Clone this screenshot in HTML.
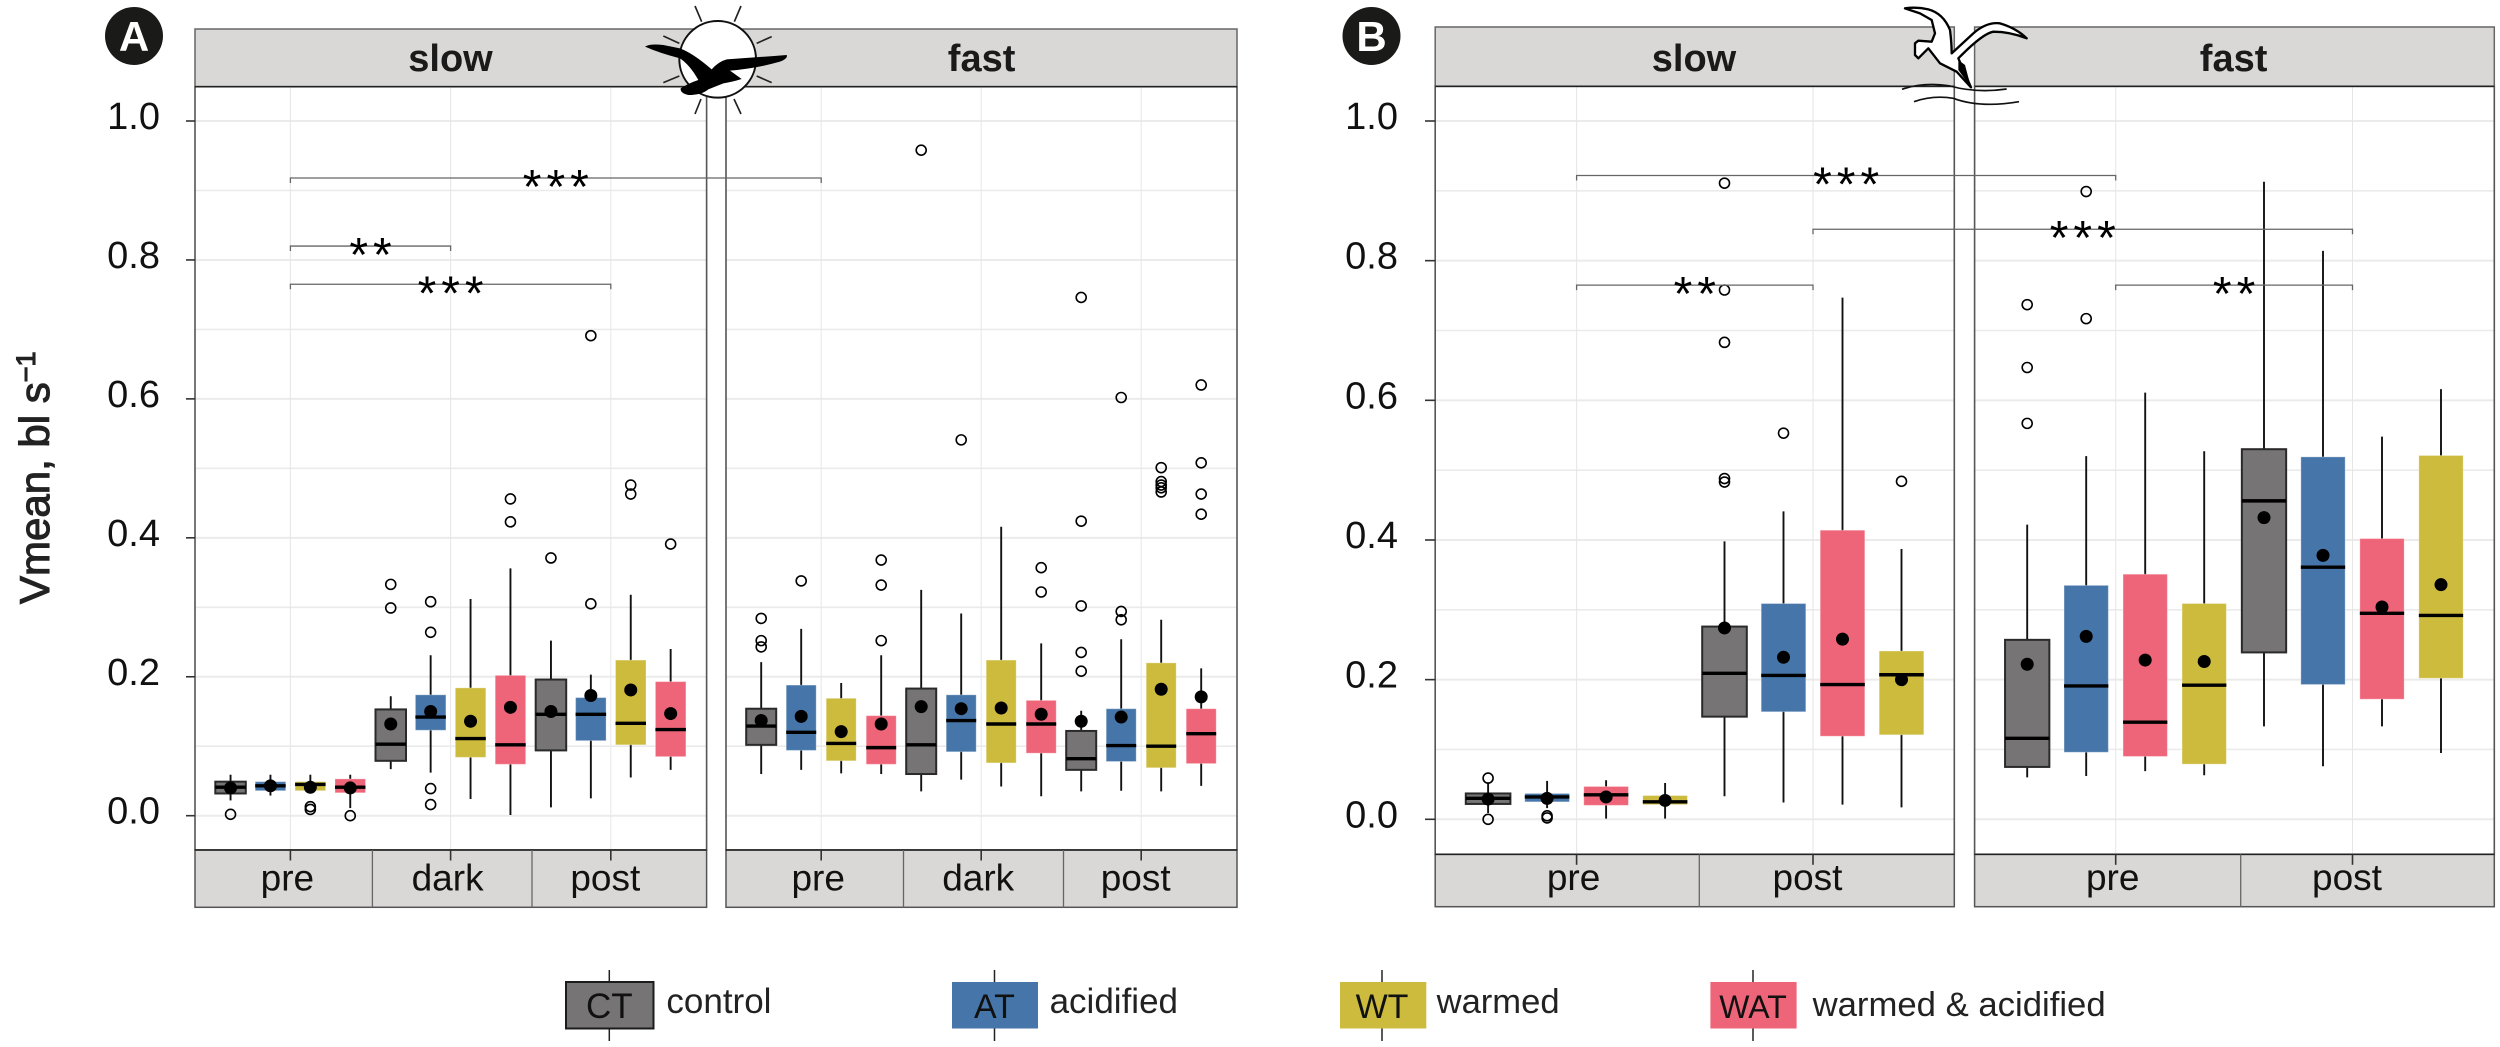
<!DOCTYPE html>
<html lang="en">
<head>
<meta charset="utf-8">
<title>Vmean by treatment and phase</title>
<style>
html,body{margin:0;padding:0;background:#fff;}
svg{display:block;font-family:"Liberation Sans",sans-serif;}
</style>
</head>
<body>
<svg id="chart" xmlns="http://www.w3.org/2000/svg" width="2500" height="1047" viewBox="0 0 2500 1047">
  <rect x="0" y="0" width="2500" height="1047" fill="#fff"/>
  <g id="plots"></g>

  <text transform="translate(49,604) rotate(-90)" font-size="42" fill="#222" stroke="#222" stroke-width="1.1">Vmean, bl s<tspan font-size="27" dy="-14">−1</tspan></text>

  <g>
    <circle cx="134" cy="36" r="29" fill="#1a1a18"/>
    <text x="134" y="51" font-size="42" font-weight="bold" fill="#fff" text-anchor="middle">A</text>
  </g>
  <g>
    <circle cx="1371.5" cy="36" r="29" fill="#1a1a18"/>
    <text x="1371.5" y="51" font-size="42" font-weight="bold" fill="#fff" text-anchor="middle">B</text>
  </g>

  <g transform="translate(630,0) scale(0.33333)">
    <circle cx="263" cy="178" r="115" fill="#fff" stroke="#111" stroke-width="6"/>
    <g stroke="#222" stroke-width="5" fill="none">
      <path d="M195,18L215,65M333,18L313,65M425,110L380,130M425,248L380,228M333,342L312,297M195,342L213,297M100,108L148,130M100,248L148,228"/>
    </g>
    <path fill="#000" d="M45,140Q60,130 100,135L150,145Q190,160 245,208Q265,185 290,178Q380,172 470,165Q475,175 450,185Q380,205 300,212L335,237Q310,245 280,250Q250,262 235,268Q215,285 175,285Q150,280 152,265Q175,250 205,240Q180,195 150,175Q90,160 45,140Z"/>
  </g>

  <g transform="translate(1890,0) scale(0.33333)">
    <path fill="#fff" stroke="#000" stroke-width="7" stroke-linejoin="round" d="M45,25Q80,20 115,28Q160,40 180,90Q185,130 185,160L250,100Q290,65 330,70Q380,85 410,115Q360,95 310,95Q280,100 215,165L205,175L243,262L200,215L150,190L115,145L85,175L75,165L75,130L85,122L125,125L135,100L125,60L90,40Z"/>
    <path fill="#000" d="M205,180L225,195L243,262L205,210Z"/>
    <path fill="none" stroke="#111" stroke-width="5" d="M36,268Q100,245 180,258Q260,280 350,267M72,305Q130,285 190,295Q270,325 387,305"/>
  </g>

  <g>
    <g>
      <line x1="609.3" x2="609.3" y1="970" y2="1041" stroke="#222" stroke-width="1.5"/>
      <rect x="566" y="982" width="87.5" height="46.5" fill="#767474" stroke="#1c1c1c" stroke-width="2"/>
      <text x="609.3" y="1018" font-size="35" text-anchor="middle" fill="#111">CT</text>
      <text x="666.4" y="1013" font-size="35" fill="#222">control</text>
    </g>
    <g>
      <line x1="994.5" x2="994.5" y1="970" y2="1041" stroke="#222" stroke-width="1.5"/>
      <rect x="952" y="982" width="86" height="46.5" fill="#4676a9"/>
      <text x="994.5" y="1018" font-size="34" text-anchor="middle" fill="#111">AT</text>
      <text x="1049.6" y="1013" font-size="35" fill="#222">acidified</text>
    </g>
    <g>
      <line x1="1382" x2="1382" y1="970" y2="1041" stroke="#222" stroke-width="1.5"/>
      <rect x="1340" y="982" width="86.3" height="46.5" fill="#cdbb3e"/>
      <text x="1382" y="1018" font-size="34" text-anchor="middle" fill="#111">WT</text>
      <text x="1436.6" y="1013" font-size="34.6" fill="#222">warmed</text>
    </g>
    <g>
      <line x1="1753" x2="1753" y1="970" y2="1041" stroke="#222" stroke-width="1.5"/>
      <rect x="1710.4" y="982" width="86.2" height="46.5" fill="#ee6478"/>
      <text x="1753" y="1018" font-size="32" text-anchor="middle" fill="#111">WAT</text>
      <text x="1812.6" y="1016" font-size="34.7" fill="#222">warmed &amp; acidified</text>
    </g>
  </g>
</svg>

<script>
// ---------- categories and tick labels ----------
const yTicks = [0, 0.2, 0.4, 0.6, 0.8, 1.0];
const yGrid = [0, 0.1, 0.2, 0.3, 0.4, 0.5, 0.6, 0.7, 0.8, 0.9, 1.0];
const phasesA = ['pre', 'dark', 'post'];
const phasesB = ['pre', 'post'];
const seriesA = ['CT', 'AT', 'WT', 'WAT'];
const seriesB = ['CT', 'AT', 'WAT', 'WT'];
const seriesColors = { CT: '#767474', AT: '#4676a9', WT: '#cdbb3e', WAT: '#ee6478' };

// ---------- panel A, slow ----------
const aSlowLow = [.022,.029,.032,.011, .067,.062,.024,.001, .012,.025,.055,.066];
const aSlowQ1 = [.032,.036,.036,.033, .079,.123,.084,.074, .094,.108,.102,.085];
const aSlowMedian = [.041,.043,.045,.041, .103,.142,.111,.102, .146,.146,.133,.124];
const aSlowQ3 = [.049,.049,.049,.053, .153,.174,.184,.202, .196,.170,.224,.193];
const aSlowHigh = [.059,.059,.059,.059, .172,.231,.312,.356, .252,.203,.318,.240];
const aSlowMean = [.040,.043,.041,.040, .132,.150,.136,.156, .150,.173,.181,.147];
const aSlowOutliers = [[.002],[],[.013,.009],[0], [.333,.299],[.308,.264,.039,.016],[],[.456,.423], [.371],[.691,.305],[.476,.463],[.391]];

// ---------- panel A, fast ----------
const aFastLow = [.060,.066,.061,.060, .035,.052,.042,.028, .035,.036,.035,.043];
const aFastQ1 = [.102,.094,.079,.074, .060,.092,.076,.090, .066,.078,.069,.075];
const aFastMedian = [.129,.120,.104,.098, .102,.137,.132,.132, .082,.101,.100,.118];
const aFastQ3 = [.154,.188,.169,.144, .183,.174,.224,.166, .122,.154,.220,.154];
const aFastHigh = [.221,.269,.191,.231, .325,.291,.416,.248, .151,.254,.282,.212];
const aFastMean = [.137,.143,.121,.132, .157,.154,.155,.146, .136,.142,.182,.171];
const aFastOutliers = [[.284,.252,.243],[.338],[],[.368,.332,.252], [.958],[.541],[],[.357,.322], [.746,.424,.302,.235,.208],[.602,.294,.282],[.501,.481,.476,.472,.466],[.620,.508,.463,.434]];

// ---------- panel B, slow ----------
const bSlowLow = [.009,.016,.001,.001, .033,.024,.021,.017];
const bSlowQ1 = [.022,.025,.020,.021, .147,.154,.119,.121];
const bSlowMedian = [.030,.032,.035,.025, .209,.206,.193,.207];
const bSlowQ3 = [.037,.037,.047,.034, .276,.309,.414,.241];
const bSlowHigh = [.052,.055,.056,.052, .398,.441,.747,.387];
const bSlowMean = [.029,.030,.032,.027, .274,.232,.258,.200];
const bSlowOutliers = [[.059,.000],[.005,.002],[],[], [.911,.758,.683,.488,.483],[.553],[],[.484]];

// ---------- panel B, fast ----------
const bFastLow = [.060,.062,.069,.063, .133,.076,.133,.095];
const bFastQ1 = [.075,.096,.090,.079, .239,.193,.172,.202];
const bFastMedian = [.116,.191,.139,.192, .456,.361,.295,.292];
const bFastQ3 = [.257,.335,.351,.309, .530,.519,.402,.521];
const bFastHigh = [.422,.520,.611,.527, .913,.814,.548,.616];
const bFastMean = [.222,.262,.228,.226, .432,.378,.304,.336];
const bFastOutliers = [[.737,.647,.567],[.899,.717],[],[], [],[],[],[]];

// ---------- significance brackets ----------
const bracketPanels = ['a', 'b'];
const bracketLevelsA = [0.918, 0.820, 0.765];
const bracketLabelsA = ['***', '**', '***'];
const bracketLevelsB = [0.922, 0.845, 0.765, 0.765];
const bracketLabelsB = ['***', '***', '**', '**'];

// ---------- layout ----------
const NS = 'http://www.w3.org/2000/svg';
const root = document.getElementById('plots');

function make(parent, tag, attrs, text) {
  const el = document.createElementNS(NS, tag);
  for (const k in attrs) el.setAttribute(k, attrs[k]);
  if (text !== undefined) el.textContent = text;
  parent.appendChild(el);
  return el;
}

const rowA = { y0: 815.7, perUnit: 694.7, stripTop: 29, stripBottom: 86.7, panelBottom: 850, footBottom: 907.3, tickLabelBase: 8, footBase: 890.7 };
const rowB = { y0: 819.3, perUnit: 698.3, stripTop: 27, stripBottom: 86.3, panelBottom: 854.3, footBottom: 906.7, tickLabelBase: 8, footBase: 890 };

const panels = [
  { id: 'a-slow', row: rowA, title: 'slow', left: 195, right: 706.6, tick0: 290.4, groupW: 160.2, step: 39.9, boxW: 30.5, titleX: 450.5, phases: phasesA, series: seriesA, seps: [372.4, 532], yAxis: true, labelRight: 160, tickLeft: 186,
    low: aSlowLow, q1: aSlowQ1, med: aSlowMedian, q3: aSlowQ3, high: aSlowHigh, mean: aSlowMean, out: aSlowOutliers },
  { id: 'a-fast', row: rowA, title: 'fast', left: 726, right: 1237, tick0: 821.2, groupW: 160, step: 40, boxW: 30, titleX: 981.6, phases: phasesA, series: seriesA, seps: [903.5, 1063.5], yAxis: false,
    low: aFastLow, q1: aFastQ1, med: aFastMedian, q3: aFastQ3, high: aFastHigh, mean: aFastMean, out: aFastOutliers },
  { id: 'b-slow', row: rowB, title: 'slow', left: 1435.2, right: 1954.3, tick0: 1576.6, groupW: 236.4, step: 59, boxW: 44.6, titleX: 1694, phases: phasesB, series: seriesB, seps: [1699.3], yAxis: true, labelRight: 1398, tickLeft: 1425,
    low: bSlowLow, q1: bSlowQ1, med: bSlowMedian, q3: bSlowQ3, high: bSlowHigh, mean: bSlowMean, out: bSlowOutliers },
  { id: 'b-fast', row: rowB, title: 'fast', left: 1974.6, right: 2494.3, tick0: 2115.7, groupW: 236.8, step: 59, boxW: 44.3, titleX: 2233.6, phases: phasesB, series: seriesB, seps: [2240.7], yAxis: false,
    low: bFastLow, q1: bFastQ1, med: bFastMedian, q3: bFastQ3, high: bFastHigh, mean: bFastMean, out: bFastOutliers }
];

function yScale(row, v) { return row.y0 - row.perUnit * v; }
function tickX(p, group) { return p.tick0 + p.groupW * group; }
function boxX(p, group, s) { return tickX(p, group) + (s - 1.5) * p.step; }

function footLabelDx(name) { return name === 'post' ? -5.5 : -3; }

function drawPanel(p) {
  const r = p.row;
  const g = make(root, 'g', {});
  
  

  // grid
  yGrid.forEach(function (v) {
    const major = yTicks.some(function (t) { return Math.abs(t - v) < 1e-9; });
    const gl = make(g, 'line', { x1: p.left, x2: p.right, y1: yScale(r, v), y2: yScale(r, v), stroke: '#ebebeb', 'stroke-width': major ? 2 : 1.6 });
    
    
  });
  p.phases.forEach(function (name, i) {
    const vl = make(g, 'line', { x1: tickX(p, i), x2: tickX(p, i), y1: r.stripBottom, y2: r.panelBottom, stroke: '#e6e6e6', 'stroke-width': 1 });
    
    
  });

  // boxes
  p.low.forEach(function (_, i) {
    const s = i % 4;
    const group = Math.floor(i / 4);
    const cx = boxX(p, group, s);
    const name = p.series[s];
    const b = make(g, 'g', {});
    
    

    const whisk = make(b, 'line', { x1: cx, x2: cx, y1: yScale(r, p.high[i]), y2: yScale(r, p.low[i]), stroke: '#111', 'stroke-width': 1.9 });
    
    

    const isCT = name === 'CT';
    const rect = make(b, 'rect', {
      x: cx - p.boxW / 2, y: yScale(r, p.q3[i]), width: p.boxW,
      height: yScale(r, p.q1[i]) - yScale(r, p.q3[i]), fill: seriesColors[name],
      stroke: isCT ? '#2a2a2a' : 'rgba(255,255,255,0.3)', 'stroke-width': isCT ? 2 : 1
    });
    
    

    const med = make(b, 'line', { x1: cx - p.boxW / 2, x2: cx + p.boxW / 2, y1: yScale(r, p.med[i]), y2: yScale(r, p.med[i]), stroke: '#000', 'stroke-width': 3.4 });
    
    

    const mean = make(b, 'circle', { cx: cx, cy: yScale(r, p.mean[i]), r: 6.5, fill: '#000' });
    
    

    p.out[i].forEach(function (v) {
      const o = make(b, 'circle', { cx: cx, cy: yScale(r, v), r: 5, fill: 'none', stroke: '#000', 'stroke-width': 1.6 });
      
      
    });
  });

  // panel outline
  const border = make(g, 'rect', { x: p.left, y: r.stripBottom, width: p.right - p.left, height: r.panelBottom - r.stripBottom, fill: 'none', stroke: '#555', 'stroke-width': 1.6 });
  
  

  // top strip
  const strip = make(g, 'rect', { x: p.left, y: r.stripTop, width: p.right - p.left, height: r.stripBottom - r.stripTop, fill: '#d9d8d6', stroke: '#666', 'stroke-width': 1.5 });
  
  
  const stripLine = make(g, 'line', { x1: p.left, x2: p.right, y1: r.stripBottom, y2: r.stripBottom, stroke: '#222', 'stroke-width': 1.6 });
  
  
  const title = make(g, 'text', { x: p.titleX, y: 71, 'font-size': 38, 'font-weight': 'bold', fill: '#1a1a1a', 'text-anchor': 'middle' }, p.title);
  
  

  // bottom strip
  const foot = make(g, 'rect', { x: p.left, y: r.panelBottom, width: p.right - p.left, height: r.footBottom - r.panelBottom, fill: '#d9d8d6', stroke: '#555', 'stroke-width': 1.5 });
  
  
  const footLine = make(g, 'line', { x1: p.left, x2: p.right, y1: r.panelBottom, y2: r.panelBottom, stroke: '#222', 'stroke-width': 1.6 });
  
  
  p.seps.forEach(function (x) {
    const sep = make(g, 'line', { x1: x, x2: x, y1: r.panelBottom, y2: r.footBottom, stroke: '#666', 'stroke-width': 1.3 });
    
    
  });
  p.phases.forEach(function (name, i) {
    const t = make(g, 'line', { x1: tickX(p, i), x2: tickX(p, i), y1: r.panelBottom, y2: r.panelBottom + 10.5, stroke: '#333', 'stroke-width': 1.6 });
    
    
    const lab = make(g, 'text', { x: tickX(p, i) + footLabelDx(name), y: r.footBase, 'font-size': 37, fill: '#111', 'text-anchor': 'middle' }, name);
    
    
  });

  // y axis
  if (p.yAxis) {
    yTicks.forEach(function (v) {
      const yt = make(g, 'line', { x1: p.tickLeft, x2: p.left, y1: yScale(r, v), y2: yScale(r, v), stroke: '#333', 'stroke-width': 1.6 });
      
      
      const yl = make(g, 'text', { x: p.labelRight, y: yScale(r, v) + r.tickLabelBase, 'font-size': 38, fill: '#111', 'text-anchor': 'end' }, v.toFixed(1));
      
      
    });
  }
}

panels.forEach(drawPanel);

function drawBracket(fromPanel, fromGroup, toPanel, toGroup, level, label) {
  const r = fromPanel.row;
  const x1 = tickX(fromPanel, fromGroup);
  const x2 = tickX(toPanel, toGroup);
  const y = yScale(r, level);
  const g = make(root, 'g', {});
  
  
  make(g, 'path', { d: 'M' + x1 + ',' + (y + 5) + 'V' + y + 'H' + x2 + 'V' + (y + 5), fill: 'none', stroke: '#666', 'stroke-width': 1.3 });
  const t = make(g, 'text', { x: (x1 + x2) / 2 + 2.5, y: y + 25, 'font-size': 48, 'letter-spacing': 5, 'text-anchor': 'middle', fill: '#000' }, label);
  
  
}

drawBracket(panels[0], 0, panels[1], 0, bracketLevelsA[0], bracketLabelsA[0]);
drawBracket(panels[0], 0, panels[0], 1, bracketLevelsA[1], bracketLabelsA[1]);
drawBracket(panels[0], 0, panels[0], 2, bracketLevelsA[2], bracketLabelsA[2]);
drawBracket(panels[2], 0, panels[3], 0, bracketLevelsB[0], bracketLabelsB[0]);
drawBracket(panels[2], 1, panels[3], 1, bracketLevelsB[1], bracketLabelsB[1]);
drawBracket(panels[2], 0, panels[2], 1, bracketLevelsB[2], bracketLabelsB[2]);
drawBracket(panels[3], 0, panels[3], 1, bracketLevelsB[3], bracketLabelsB[3]);
</script>
</body>
</html>
